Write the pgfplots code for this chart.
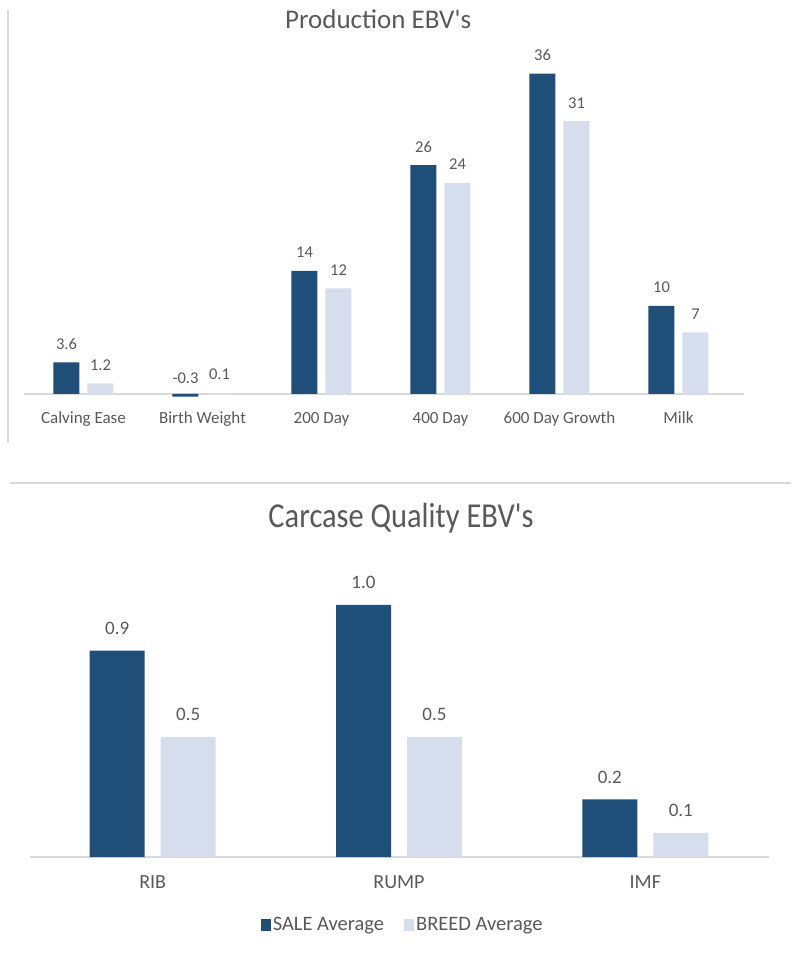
\documentclass[border=0pt]{standalone}
\usepackage{fontspec}
\setmainfont{Carlito}
\usepackage{pgfplots}
\pgfplotsset{compat=1.18}

\definecolor{sale}{HTML}{1F4E79}
\definecolor{breed}{HTML}{D6DEEE}
\definecolor{txt}{HTML}{595959}
\definecolor{rulegray}{HTML}{D9D9D9}

\begin{document}
\begin{tikzpicture}[x=1pt,y=1pt]
\path (0,0) rectangle (791,954);
% frame lines of the two chart boxes
\draw[rulegray, line width=1.5pt] (8,944) -- (8,511);
\draw[rulegray, line width=1.5pt] (10,471) -- (791,471);

% Production EBV's
\begin{axis}[
  at={(24pt,551.2pt)}, anchor=south west, scale only axis,
  width=714pt, height=360.8pt,
  xmin=-0.5, xmax=5.5, ymin=-1, ymax=40,
  axis line style={draw=none}, ytick=\empty,
  xtick={0,...,5},
  xticklabels={Calving Ease, Birth Weight, 200 Day, 400 Day, 600 Day Growth, Milk},
  xtick style={draw=none},
  xticklabel style={font=\fontsize{17}{19}\selectfont, text=txt, yshift=-1.5pt},
  ybar=8pt, bar width=26pt,
  nodes near coords, point meta=explicit symbolic,
  every node near coord/.append style={font=\fontsize{16.5}{18}\selectfont, text=txt, anchor=south, yshift=9.5pt},
  clip=false,
  title={Production EBV\textquotesingle s},
  title style={font=\fontsize{27}{30}\selectfont, text=txt, at={(0.496,1)}, anchor=center, yshift=17pt},
]
\draw[rulegray, line width=1.5pt] (axis cs:-0.5,0) -- (axis cs:5.55,0);
\addplot[fill=sale, draw=none] coordinates {
  (0,3.6) [3.6] (1,-0.3) [-0.3] (2,14) [14] (3,26) [26] (4,36.4) [36] (5,10) [10]
};
\addplot[fill=breed, draw=none] coordinates {
  (0,1.2) [1.2] (1,0.1) [0.1] (2,12) [12] (3,24) [24] (4,31) [31] (5,7) [7]
};
\end{axis}

% Carcase Quality EBV's
\begin{axis}[
  at={(29.5pt,97pt)}, anchor=south west, scale only axis,
  width=739pt, height=288pt,
  xmin=-0.5, xmax=2.5, ymin=0, ymax=1.2,
  axis line style={draw=none}, ytick=\empty,
  xtick={0,1,2},
  xticklabels={RIB, RUMP, IMF},
  xtick style={draw=none},
  xticklabel style={font=\fontsize{20}{22}\selectfont, text=txt, yshift=-11pt},
  ybar=16pt, bar width=55pt,
  nodes near coords, point meta=explicit symbolic,
  every node near coord/.append style={font=\fontsize{19}{21}\selectfont, text=txt, anchor=south, yshift=12.5pt},
  clip=false,
  legend style={at={(0.505,-0.236)}, anchor=center, draw=none, fill=none,
    legend columns=2, font=\fontsize{20.5}{22}\selectfont, text=txt,
    /tikz/every even column/.append style={column sep=18pt}},
  legend cell align=left,
  legend image code/.code={\fill[#1] (0pt,-6pt) rectangle (10pt,6pt);},
]
\draw[rulegray, line width=1.5pt] (axis cs:-0.5,0) -- (axis cs:2.5,0);
\addplot[fill=sale, draw=none] coordinates {
  (0,0.86) [0.9] (1,1.05) [1.0] (2,0.24) [0.2]
};
\addlegendentry{SALE Average}
\addplot[fill=breed, draw=none] coordinates {
  (0,0.50) [0.5] (1,0.50) [0.5] (2,0.10) [0.1]
};
\addlegendentry{BREED Average}
\end{axis}

\node[text=txt, font=\fontsize{35}{40}\selectfont] at (401,436) {\scalebox{0.87}[1]{Carcase Quality EBV\textquotesingle s}};
\end{tikzpicture}
\end{document}
